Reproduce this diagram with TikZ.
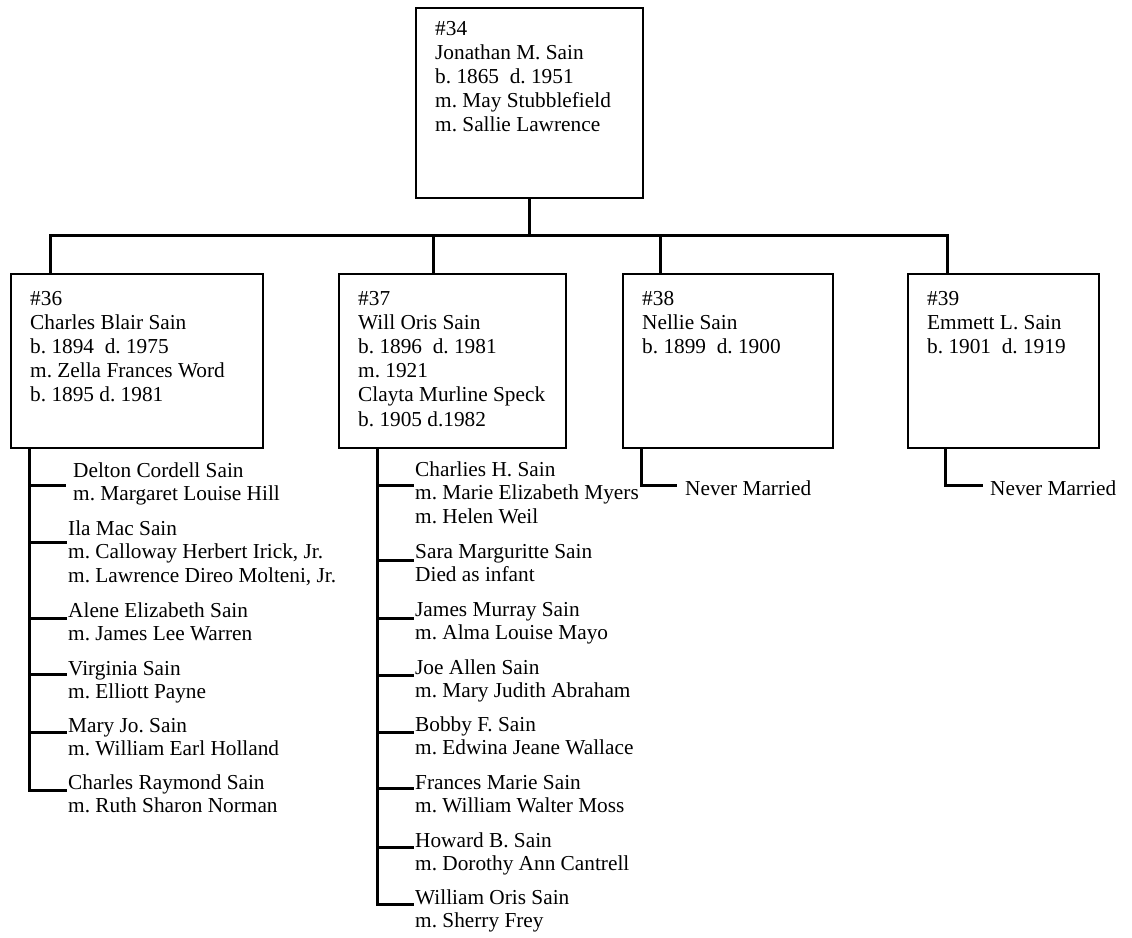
\documentclass[tikz,border=0pt]{standalone}
\usepackage{fontspec}
\setmainfont{Liberation Serif}
\frenchspacing
\begin{document}
\begin{tikzpicture}[x=1pt,y=-1pt,
  box/.style={draw,line width=1.5pt,inner sep=0pt,anchor=north west},
  conn/.style={line width=3pt},
  boxtxt/.style={anchor=base west,inner sep=0pt,align=left,font=\fontsize{21.3pt}{24.2pt}\selectfont},
  kidtxt/.style={anchor=base west,inner sep=0pt,align=left,font=\fontsize{21.3pt}{23.5pt}\selectfont}]
\useasboundingbox (0,0) rectangle (1132,937);
% boxes
\node[box,minimum width=227pt,minimum height=190pt] (b34) at (415,7) {};
\node[box,minimum width=252pt,minimum height=174pt] (b36) at (10,273) {};
\node[box,minimum width=227pt,minimum height=174pt] (b37) at (338,273) {};
\node[box,minimum width=210pt,minimum height=174pt] (b38) at (622,273) {};
\node[box,minimum width=191pt,minimum height=174pt] (b39) at (907,273) {};
% box texts (anchor = baseline of last line)
\node[boxtxt] (t34) at (435,131.8) {\#34\\Jonathan M. Sain\\b. 1865\ \ d. 1951\\m. May Stubblefield\\m. Sallie Lawrence};
\node[boxtxt] (t36) at (30,401.8) {\#36\\Charles Blair Sain\\b. 1894\ \ d. 1975\\m. Zella Frances Word\\b. 1895 d. 1981};
\node[boxtxt] (t37) at (358,426) {\#37\\Will Oris Sain\\b. 1896\ \ d. 1981\\m. 1921\\Clayta Murline Speck\\b. 1905 d.1982};
\node[boxtxt] (t38) at (642,353.4) {\#38\\Nellie Sain\\b. 1899\ \ d. 1900};
\node[boxtxt] (t39) at (927,353.4) {\#39\\Emmett L. Sain\\b. 1901\ \ d. 1919};
% bus
\coordinate (busL) at (50,235);
\coordinate (busR) at (947,235);
\coordinate (j37) at (433,235);
\coordinate (j38) at (660,235);
\draw[conn] (b34.south) -- (b34.south |- busL);
\draw[conn] (busL |- b36.north) -- (busL) -- (busR) -- (busR |- b39.north);
\draw[conn] (j37) -- (j37 |- b37.north);
\draw[conn] (j38) -- (j38 |- b38.north);
% left children
\node[kidtxt] (l1) at (73,500.5) {Delton Cordell Sain\\m. Margaret Louise Hill};
\node[kidtxt] (l2) at (68,582) {Ila Mac Sain\\m. Calloway Herbert Irick, Jr.\\m. Lawrence Direo Molteni, Jr.};
\node[kidtxt] (l3) at (68,640.5) {Alene Elizabeth Sain\\m. James Lee Warren};
\node[kidtxt] (l4) at (68,698.5) {Virginia Sain\\m. Elliott Payne};
\node[kidtxt] (l5) at (68,755.5) {Mary Jo. Sain\\m. William Earl Holland};
\node[kidtxt] (l6) at (68,812.5) {Charles Raymond Sain\\m. Ruth Sharon Norman};
\coordinate (tL) at (29,0);
\coordinate (kl1) at (66,485);
\coordinate (kl2) at (67,542);
\coordinate (kl3) at (67,618);
\coordinate (kl4) at (67,674);
\coordinate (kl5) at (67,732);
\coordinate (kl6) at (67,790);
\draw[conn] (tL |- b36.south) -- (tL |- kl6) -- (kl6);
\foreach \k in {kl1,kl2,kl3,kl4,kl5} \draw[conn] (tL |- \k) -- (\k);
% middle children
\node[kidtxt] (m1) at (415,523) {Charlies H. Sain\\m. Marie Elizabeth Myers\\m. Helen Weil};
\node[kidtxt] (m2) at (415,581.5) {Sara Marguritte Sain\\Died as infant};
\node[kidtxt] (m3) at (415,639.5) {James Murray Sain\\m. Alma Louise Mayo};
\node[kidtxt] (m4) at (415,697.5) {Joe Allen Sain\\m. Mary Judith Abraham};
\node[kidtxt] (m5) at (415,754.5) {Bobby F. Sain\\m. Edwina Jeane Wallace};
\node[kidtxt] (m6) at (415,812.5) {Frances Marie Sain\\m. William Walter Moss};
\node[kidtxt] (m7) at (415,870.5) {Howard B. Sain\\m. Dorothy Ann Cantrell};
\node[kidtxt] (m8) at (415,927.5) {William Oris Sain\\m. Sherry Frey};
\coordinate (tM) at (377,0);
\coordinate (km1) at (414,485);
\coordinate (km2) at (414,560);
\coordinate (km3) at (414,618);
\coordinate (km4) at (414,675);
\coordinate (km5) at (414,732);
\coordinate (km6) at (414,788);
\coordinate (km7) at (414,847);
\coordinate (km8) at (414,904);
\draw[conn] (tM |- b37.south) -- (tM |- km8) -- (km8);
\foreach \k in {km1,km2,km3,km4,km5,km6,km7} \draw[conn] (tM |- \k) -- (\k);
% never married
\node[kidtxt] (n38) at (685,495) {Never Married};
\node[kidtxt] (n39) at (990,495) {Never Married};
\coordinate (k38) at (677,485);
\coordinate (k39) at (983,485);
\coordinate (s38) at (641,0);
\coordinate (s39) at (945,0);
\draw[conn] (s38 |- b38.south) -- (s38 |- k38) -- (k38);
\draw[conn] (s39 |- b39.south) -- (s39 |- k39) -- (k39);
\end{tikzpicture}
\end{document}
